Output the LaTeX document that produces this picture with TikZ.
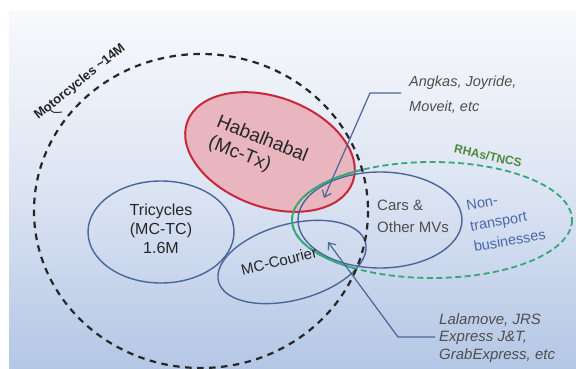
\documentclass[tikz,border=0pt]{standalone}
\usepackage{fontspec}
\setmainfont{Liberation Sans}
\usetikzlibrary{arrows.meta}
\definecolor{bgtop}{HTML}{F8F9FC}
\definecolor{bgmid}{HTML}{DCE4F3}
\definecolor{bgbot}{HTML}{B4C7E5}
\definecolor{ellblue}{HTML}{4A6698}
\definecolor{redline}{HTML}{C8283A}
\definecolor{pinkfill}{HTML}{E9B6C0}
\definecolor{greenline}{HTML}{35A878}
\definecolor{greentext}{HTML}{4A8A3C}
\definecolor{graytext}{HTML}{4E4E4E}
\definecolor{bluetext}{HTML}{4A68AA}
\tikzset{
  blueell/.style={draw=ellblue, line width=1.4pt},
  motodash/.style={draw=black!85, line width=2.2pt, dash pattern=on 6.5pt off 5.5pt},
  greendash/.style={draw=greenline, line width=1.8pt, dash pattern=on 6pt off 3.5pt},
  lbl/.style={inner sep=0pt, text=black!85},
  note/.style={inner sep=0pt, text=graytext, font=\itshape\fontsize{14.5}{17}\selectfont, align=left},
  arr/.style={draw=ellblue, line width=1.2pt, -{Straight Barb[length=6pt,width=9.5pt]}}
}
\begin{document}
\begin{tikzpicture}[x=1pt,y=-1pt]
\useasboundingbox (0,0) rectangle (576,369);
\fill[white] (0,0) rectangle (576,369);
\shade[top color=bgtop, bottom color=bgbot, middle color=bgmid] (9,12) rectangle (576,368);

% Habalhabal (red)
\draw[fill=pinkfill, draw=redline, line width=2pt, rotate around={-20:(270,152)}] (270,152) ellipse [x radius=88, y radius=55];

% Tricycles
\draw[blueell] (161,232) ellipse [x radius=73, y radius=51];
% MC-Courier
\draw[blueell, rotate around={15:(292,262)}] (292,262) ellipse [x radius=76, y radius=38];
% Cars & other MVs
\draw[blueell] (380,220) ellipse [x radius=82, y radius=48];

% green RHAs/TNCS: solid inside motorcycles circle, dashed outside
\begin{scope}
  \clip (201,211) ellipse [x radius=167, y radius=157];
  \draw[draw=greenline, line width=1.8pt] (432,220) ellipse [x radius=140, y radius=58];
\end{scope}
\draw[greendash] (432,220) ellipse [x radius=140, y radius=58];

% motorcycles circle
\draw[motodash] (201,211) ellipse [x radius=167, y radius=157];

% labels
\node[lbl, font=\bfseries\fontsize{13}{15}\selectfont, rotate=39] (moto) at (80,82) {Motorcycles \textasciitilde14M};
\draw[black!80, line width=1pt] (50,108) .. controls (51,113) and (55,113) .. (62,112);

\node[lbl, font=\fontsize{19}{22}\selectfont, align=left, rotate=-22] (hab) at (258,150) {Habalhabal\\(Mc-Tx)};
\node[lbl, font=\fontsize{16}{19}\selectfont, align=center] (tri) at (161,229) {Tricycles\\(MC-TC)\\1.6M};
\node[lbl, font=\fontsize{15}{18}\selectfont, rotate=14] (mcc) at (279,261) {MC-Courier};
\node[lbl, text=graytext, font=\fontsize{15}{22}\selectfont, align=left, anchor=west] (cars) at (377,216) {Cars \&\\Other MVs};
\node[lbl, text=bluetext, font=\fontsize{14.5}{21}\selectfont, align=left, rotate=10] (nont) at (506,220) {Non-\\transport\\businesses};
\node[lbl, text=greentext, font=\bfseries\fontsize{12}{14}\selectfont, rotate=-12] (rha) at (488,156) {RHAs/TNCS};

% notes and arrows
\node[note, font=\itshape\fontsize{14.5}{25}\selectfont, anchor=west] (angk) at (409,95) {Angkas, Joyride,\\Moveit, etc};
\coordinate (ak1) at (401,93);
\coordinate (ak2) at (370,93);
\coordinate (aktip) at (324,198);
\draw[arr] (ak1) -- (ak2) -- (aktip);

\node[note, font=\itshape\fontsize{15}{17.5}\selectfont, anchor=west] (lala) at (439,338) {Lalamove, JRS\\Express J\&T,\\GrabExpress, etc};
\coordinate (lk1) at (435,337);
\coordinate (lk2) at (398,337);
\coordinate (lktip) at (328,242);
\draw[arr] (lk1) -- (lk2) -- (lktip);
\end{tikzpicture}
\end{document}
